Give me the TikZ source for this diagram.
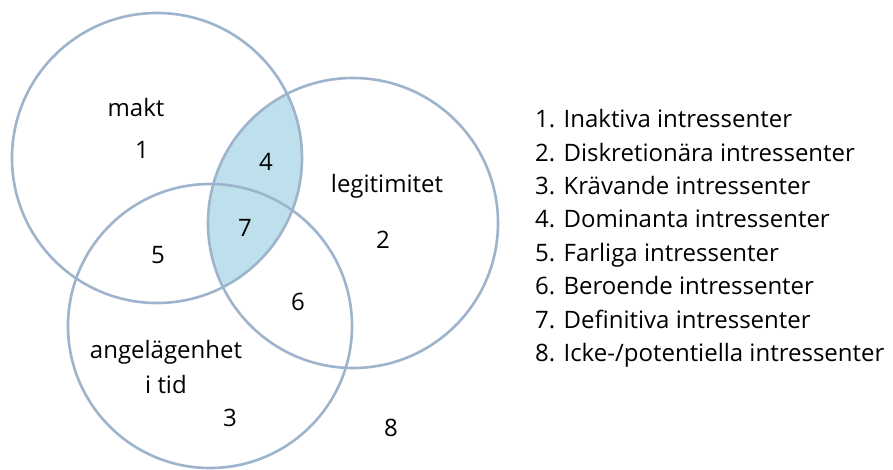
\documentclass[tikz,border=0pt]{standalone}
\usepackage{fontspec}
\setmainfont{Open Sans}
\begin{document}
\begin{tikzpicture}[x=1pt,y=-1pt,
  ring/.style={draw=ringc,line width=2.6pt},
  lbl/.style={font=\fontsize{24}{28}\selectfont,inner sep=0pt},
  leg/.style={font=\fontsize{24}{28}\selectfont,inner sep=0pt,anchor=base west}]
\definecolor{ringc}{HTML}{9DB4CC}
\definecolor{lensc}{HTML}{BEE0EC}
\useasboundingbox (0,0) rectangle (893,470);
\fill[white] (0,0) rectangle (893,470);
% shaded lens makt ∩ legitimitet
\begin{scope}
  \clip (157,158) circle[radius=145pt];
  \fill[lensc] (353,223) circle[radius=145pt];
\end{scope}
\draw[ring] (157,158) circle[radius=145pt];
\draw[ring] (353,223) circle[radius=145pt];
\draw[ring] (210,326) circle[radius=142pt];
% labels
\node[lbl,anchor=base] (makt) at (136,117) {makt};
\node[lbl] (n1) at (142,150) {1};
\node[lbl] (n4) at (266,162) {4};
\node[lbl,anchor=base] (legit) at (387,193) {legitimitet};
\node[lbl] (n7) at (245,228) {7};
\node[lbl] (n2) at (383,240) {2};
\node[lbl] (n5) at (158,255) {5};
\node[lbl] (n6) at (298,302) {6};
\node[lbl,anchor=base] (ang) at (166,358) {angelägenhet};
\node[lbl,anchor=base] (itid) at (166,393) {i tid};
\node[lbl] (n3) at (230,418) {3};
\node[lbl] (n8) at (391,428) {8};
% legend
\node[leg] (l1) at (535,128) {1. Inaktiva intressenter};
\node[leg] (l2) at (535,161.3) {2. Diskretionära intressenter};
\node[leg] (l3) at (535,194.6) {3. Krävande intressenter};
\node[leg] (l4) at (535,228) {4. Dominanta intressenter};
\node[leg] (l5) at (535,261.3) {5. Farliga intressenter};
\node[leg] (l6) at (535,294.6) {6. Beroende intressenter};
\node[leg] (l7) at (535,328) {7. Definitiva intressenter};
\node[leg] (l8) at (535,361.3) {8. Icke-/potentiella intressenter};
\end{tikzpicture}
\end{document}
